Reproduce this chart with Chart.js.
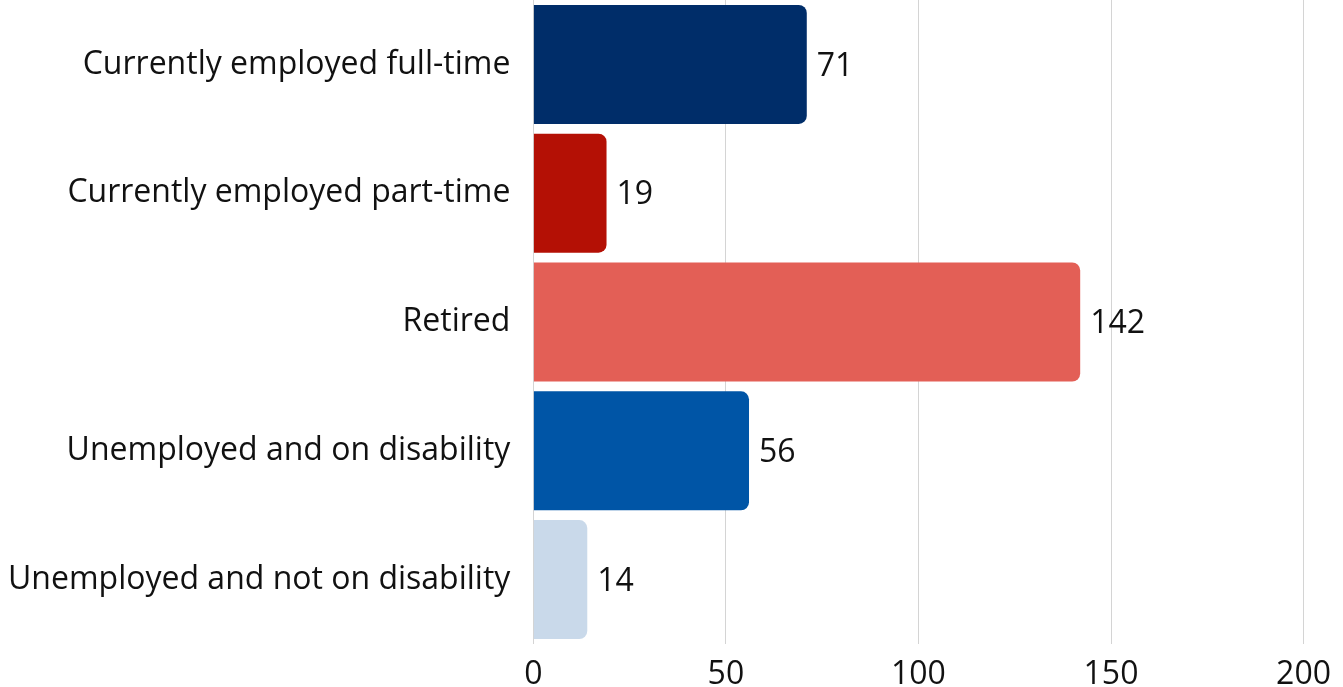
<!DOCTYPE html>
<html>
<head>
<meta charset="utf-8">
<script src="https://cdn.jsdelivr.net/npm/chart.js@4"></script>
<style>
  html, body { margin: 0; padding: 0; background: #fff; }
  #wrap { width: 1343px; height: 687px; }
</style>
</head>
<body>
<div id="wrap"><canvas id="employment-chart"></canvas></div>
<script>
const categories = [
  'Currently employed full-time',
  'Currently employed part-time',
  'Retired',
  'Unemployed and on disability',
  'Unemployed and not on disability'
];
const counts = [71, 19, 142, 56, 14];
const barColors = ['#002d69', '#b41005', '#e35f56', '#0055a6', '#c9d9ea'];
const xTicks = [0, 50, 100, 150, 200];

const FONT = "'Open Sans', sans-serif";
const FONT_SIZE = 32;

// writes the count just past the end of each bar
const valueLabels = {
  id: 'valueLabels',
  afterDatasetsDraw(chart) {
    const ctx = chart.ctx;
    const meta = chart.getDatasetMeta(0);
    ctx.save();
    ctx.font = `${FONT_SIZE}px ${FONT}`;
    ctx.fillStyle = '#111';
    ctx.textAlign = 'left';
    ctx.textBaseline = 'middle';
    meta.data.forEach((bar, i) => {
      ctx.fillText(String(counts[i]), bar.x + 10, bar.y + 2);
    });
    ctx.restore();
  }
};

new Chart(document.getElementById('employment-chart'), {
  type: 'bar',
  data: {
    labels: categories,
    datasets: [{
      data: counts,
      backgroundColor: barColors,
      borderRadius: 8,
      borderSkipped: 'start',
      barPercentage: 0.924,
      categoryPercentage: 1
    }]
  },
  options: {
    indexAxis: 'y',
    responsive: true,
    maintainAspectRatio: false,
    animation: false,
    layout: { padding: { top: 0, left: 0, right: 27, bottom: 0 } },
    plugins: {
      legend: { display: false },
      tooltip: { enabled: false }
    },
    scales: {
      x: {
        min: 0,
        max: 200,
        afterBuildTicks: axis => { axis.ticks = xTicks.map(v => ({ value: v })); },
        afterFit: scale => { scale.height = 43; },
        grid: { color: '#d4d4d4', drawTicks: false },
        border: { display: false },
        ticks: { color: '#111', padding: 12, font: { family: FONT, size: FONT_SIZE } }
      },
      y: {
        grid: { display: false },
        border: { display: false },
        ticks: { color: '#111', padding: 15, font: { family: FONT, size: FONT_SIZE } },
        // tighter label column, no extra room above/below it
        afterFit: scale => {
          scale.width -= 7;
          scale.paddingTop = 0;
          scale.paddingBottom = 0;
        }
      }
    }
  },
  plugins: [valueLabels]
});
</script>
</body>
</html>
